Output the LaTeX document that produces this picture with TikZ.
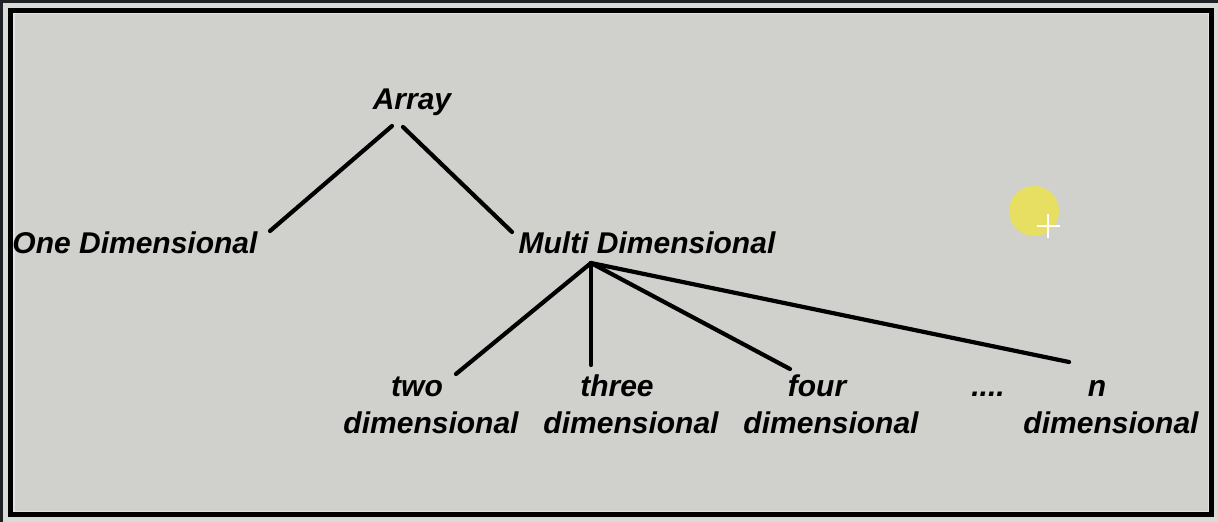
\documentclass[tikz,border=0pt]{standalone}
\usepackage{fontspec}
\setmainfont{Liberation Sans}
\usetikzlibrary{calc}
\definecolor{bg}{HTML}{D0D1CD}
\definecolor{outerc}{HTML}{1E2224}
\definecolor{dotc}{HTML}{E6DF62}
\tikzset{
  lbl/.style={font=\fontsize{30}{37}\selectfont\bfseries\itshape, inner sep=0pt, anchor=base, align=center},
  edge/.style={line width=4.2pt, line cap=round}
}
\begin{document}
\begin{tikzpicture}[x=1pt,y=-1pt]
\useasboundingbox (0,0) rectangle (1218,522);
\fill[outerc] (0,0) rectangle (1218,522);
\fill[bg!80!white] (3,3) rectangle (1218,522);
\fill[bg] (13,13) rectangle (1209,512);
\draw[line width=5pt] (10.5,10) rectangle (1211.5,514.5);
\draw[bg!60!white, line width=1.5pt] (13.75,13.25) rectangle (1208.25,511.25);

\node[lbl] (array) at (412,109) {Array};
\node[lbl] (one) at (135,253) {One Dimensional};
\node[lbl] (multi) at (647,253) {Multi Dimensional};
\node[lbl] (two) at (431,433) {two\kern28pt\\dimensional};
\node[lbl] (three) at (631,433) {three\kern28pt\\dimensional};
\node[lbl] (four) at (831,433) {four\kern28pt\\dimensional};
\node[lbl] (dots) at (988,396) {....};
\node[lbl] (ndim) at (1111,433) {n\kern28pt\\dimensional};

\coordinate (hub) at ($(multi.base)+(-56,10)$);
\draw[edge] ($(array.base)+(-20,17)$) -- ($(one.base)+(135,-22)$);
\draw[edge] ($(array.base)+(-9,18)$) -- ($(multi.base)+(-135,-21)$);
\draw[edge] (hub) -- ($(two.base)+(25,-59)$);
\draw[edge] (hub) -- ($(three.base)+(-40,-68)$);
\draw[edge] (hub) -- ($(four.base)+(-41,-64)$);
\draw[edge] (hub) -- ($(ndim.base)+(-42,-71)$);

\fill[dotc] (1034,211) circle (25);
\draw[white, line width=1.6pt] (1037,226) -- (1060,226) (1048,214) -- (1048,238);
\end{tikzpicture}
\end{document}
